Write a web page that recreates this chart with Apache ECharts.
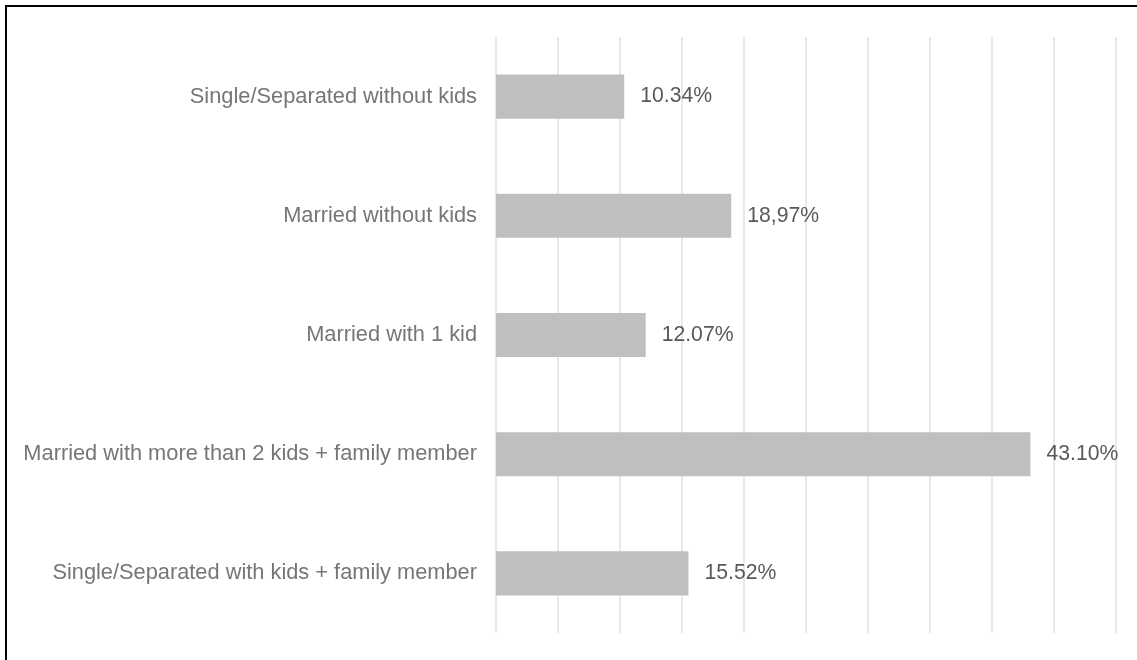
<!DOCTYPE html>
<html>
<head>
<meta charset="utf-8">
<script src="https://cdn.jsdelivr.net/npm/echarts@6/dist/echarts.min.js"></script>
<style>
  html, body { margin: 0; padding: 0; background: #fff; }
  #chart { width: 1137px; height: 660px; }
</style>
</head>
<body>
<div id="chart"></div>
<script>
const categories = [
  'Single/Separated without kids',
  'Married without kids',
  'Married with 1 kid',
  'Married with more than 2 kids + family member',
  'Single/Separated with kids + family member'
]
const shares = [10.34, 18.97, 12.07, 43.10, 15.52]
const shareLabels = ['10.34%', '18,97%', '12.07%', '43.10%', '15.52%']

const chart = echarts.init(document.getElementById('chart'))

chart.setOption({
  backgroundColor: '#fff',
  animation: false,
  textStyle: { fontFamily: '"Liberation Sans", Arial, sans-serif' },
  graphic: [{
    type: 'rect',
    silent: true,
    shape: { x: 6, y: 6, width: 1200, height: 700 },
    style: { fill: 'none', stroke: '#000', lineWidth: 2 }
  }],
  grid: { left: 496, right: 21, top: 37, bottom: 27 },
  xAxis: {
    type: 'value',
    min: 0,
    max: 50,
    interval: 5,
    axisLabel: { show: false },
    axisTick: { show: false },
    axisLine: { show: false },
    splitLine: { lineStyle: { color: '#e2e2e2', width: 1.5 } }
  },
  yAxis: {
    type: 'category',
    data: categories,
    inverse: true,
    axisTick: { show: false },
    axisLine: { show: false },
    axisLabel: {
      color: '#767676',
      fontSize: 21.8,
      margin: 19
    }
  },
  series: [{
    type: 'bar',
    data: shares,
    barWidth: '37%',
    itemStyle: { color: '#bfbfbf' },
    label: {
      show: true,
      position: 'right',
      distance: 16,
      color: '#595959',
      fontSize: 21.2,
      formatter: p => shareLabels[p.dataIndex]
    }
  }]
})
</script>
</body>
</html>
